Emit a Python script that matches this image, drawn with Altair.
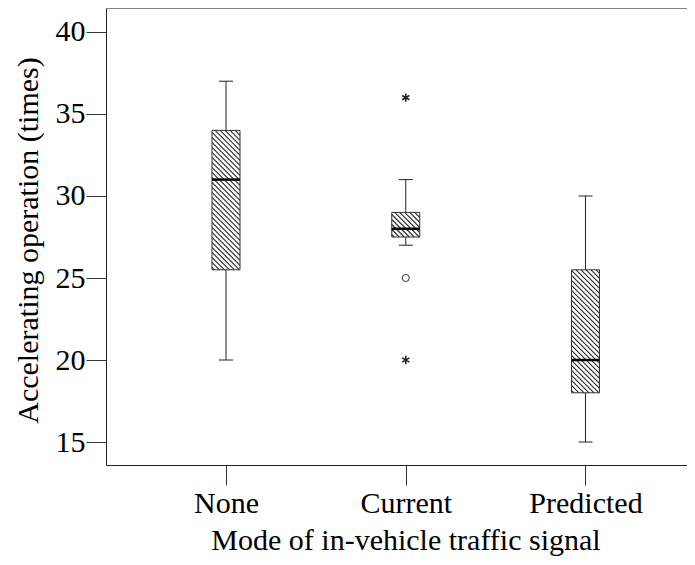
import altair as alt
import pandas as pd

# ---- data ----
modes = ["None", "Current", "Predicted"]
whisker_low = [20, 27, 15]
q1 = [25.5, 27.5, 18]
median = [31, 28, 20]
q3 = [34, 29, 25.5]
whisker_high = [37, 31, 30]
mild_out_mode = ["Current"]
mild_out_value = [25]
extreme_out_mode = ["Current", "Current"]
extreme_out_value = [36, 20]
y_ticks = [15, 20, 25, 30, 35, 40]

# ---- layout constants ----
PLOT_W, PLOT_H = 581, 457
X_DOM = [0.3324, 3.5647]
Y_DOM = [13.598, 41.463]
PX_X = PLOT_W / (X_DOM[1] - X_DOM[0])
PX_Y = PLOT_H / (Y_DOM[1] - Y_DOM[0])
BOX_W = 28
HATCH_P = 5.0
FONT = "Liberation Serif"
FS = 30

boxes = pd.DataFrame({
    "mode": modes,
    "pos": [i + 1 for i in range(len(modes))],
    "lo": whisker_low, "q1": q1, "med": median, "q3": q3, "hi": whisker_high,
})
mild = pd.DataFrame({"pos": [modes.index(m) + 1 for m in mild_out_mode], "value": mild_out_value})
extreme = pd.DataFrame({"pos": [modes.index(m) + 1 for m in extreme_out_mode], "value": extreme_out_value})

# hatch lines (45 deg "\\" lines clipped to each box)
rows = []
for _, b in boxes.iterrows():
    h = (b.q3 - b.q1) * PX_Y
    w = BOX_W
    k = -h + HATCH_P / 2
    while k < w:
        y0 = max(0.0, -k)
        y1 = min(h, w - k)
        if y1 > y0:
            rows.append({
                "hx": b.pos + (y0 + k - w / 2) / PX_X,
                "hx2": b.pos + (y1 + k - w / 2) / PX_X,
                "hy": b.q3 - y0 / PX_Y,
                "hy2": b.q3 - y1 / PX_Y,
            })
        k += HATCH_P
hatch = pd.DataFrame(rows)

label_expr = "[" + ",".join("'%s'" % m for m in modes) + "][datum.value - 1]"

x_axis = alt.Axis(
    values=[1, 2, 3], labelExpr=label_expr, grid=False, tickSize=20,
    tickColor="#333", domainColor="#222", labelFont=FONT, labelFontSize=FS,
    labelColor="black", labelPadding=3, labelFlush=False, labelOverlap=False,
    title="Mode of in-vehicle traffic signal", titleFont=FONT, titleFontSize=FS,
    titleFontWeight="normal", titleColor="black", titleX=299.5, titleY=84,
    titleBaseline="alphabetic", titleAlign="center",
)
y_axis = alt.Axis(
    values=y_ticks, grid=False, tickSize=20, tickColor="#333", domainColor="#222",
    labelFont=FONT, labelFontSize=FS, labelColor="black", labelPadding=1,
    title="Accelerating operation (times)", titleFont=FONT, titleFontSize=FS,
    titleFontWeight="normal", titleColor="black", titleX=-78, titleY=232,
    titleAlign="center", titleBaseline="middle",
)
xs = alt.Scale(domain=X_DOM, nice=False, zero=False, padding=0)
ys = alt.Scale(domain=Y_DOM, nice=False, zero=False, padding=0)

def X(f):
    return alt.X(f, type="quantitative", scale=xs, axis=x_axis)

def Y(f):
    return alt.Y(f, type="quantitative", scale=ys, axis=y_axis)

base = alt.Chart(boxes)

top_line = alt.Chart(boxes).mark_rule(color="#777", strokeWidth=1).encode(
    y=alt.value(0), x=alt.value(0), x2=alt.value(PLOT_W))

hatch_layer = alt.Chart(hatch).mark_rule(color="#333", strokeWidth=1.2).encode(
    x=X("hx"), x2="hx2", y=Y("hy"), y2="hy2")

box = base.mark_bar(size=BOX_W, fillOpacity=0, stroke="#333", strokeWidth=1).encode(
    x=X("pos"), y=Y("q1"), y2="q3")

wh_up = base.mark_rule(color="#222", strokeWidth=1).encode(x=X("pos"), y=Y("q3"), y2="hi")
wh_dn = base.mark_rule(color="#222", strokeWidth=1).encode(x=X("pos"), y=Y("lo"), y2="q1")
cap_hi = base.mark_tick(orient="horizontal", size=14, thickness=1, color="#222", opacity=1).encode(
    x=X("pos"), y=Y("hi"))
cap_lo = base.mark_tick(orient="horizontal", size=14, thickness=1, color="#222", opacity=1).encode(
    x=X("pos"), y=Y("lo"))
med = base.mark_tick(orient="horizontal", size=BOX_W, thickness=2.5, color="black", opacity=1).encode(
    x=X("pos"), y=Y("med"))

circ = alt.Chart(mild).mark_point(shape="circle", size=50, filled=False, color="#333",
                                  strokeWidth=1, opacity=1).encode(x=X("pos"), y=Y("value"))
star_path = "M0,-1L0,1M-0.866,-0.5L0.866,0.5M-0.866,0.5L0.866,-0.5"
star = alt.Chart(extreme).mark_point(shape=star_path, size=70, filled=False, color="#222",
                                     strokeWidth=1.6, opacity=1).encode(x=X("pos"), y=Y("value"))

chart = alt.layer(top_line, hatch_layer, box, wh_up, wh_dn, cap_hi, cap_lo, med, circ, star).properties(
    width=PLOT_W, height=PLOT_H,
    autosize=alt.AutoSizeParams(type="none"),
    padding={"left": 98, "top": 0, "right": 0, "bottom": 92},
).configure_view(stroke=None).configure(background="white")

chart.save("out.html", embed_options={"renderer": "svg", "actions": False})
